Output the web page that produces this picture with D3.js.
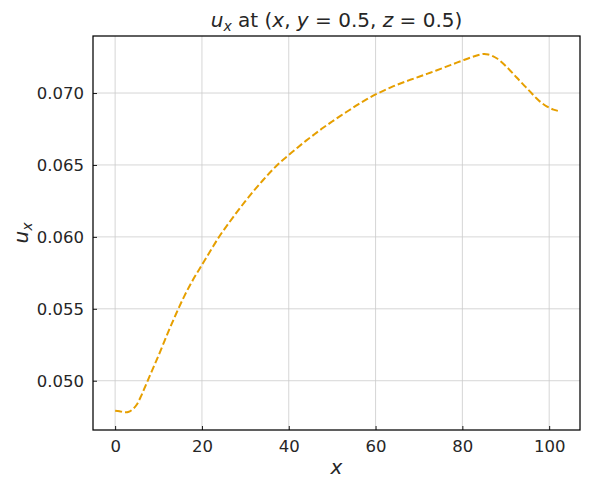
<!DOCTYPE html>
<html>
<head>
<meta charset="utf-8">
<script src="https://cdn.jsdelivr.net/npm/d3@7"></script>
<style>
  html, body { margin: 0; padding: 0; background: #fff; }
  svg { display: block; font-family: "DejaVu Sans", sans-serif; }
</style>
</head>
<body>
<svg id="chart" width="590" height="490"></svg>
<script>
// ---- data ----
const xValues = [0,1,2,3,4,5,6,7,8,9,10,12,14,16,18,20,22,24,26,28,30,32,34,36,38,40,42,44,46,48,50,52,54,56,58,60,62,64,66,68,70,72,74,76,78,80,82,84,85,86,87,88,89,90,91,92,93,94,95,96,97,98,99,100,101,102];
const uxValues = [0.04792,0.04788,0.04782,0.04783,0.04800,0.04835,0.04895,0.04965,0.05035,0.05105,0.05175,0.05322,0.05462,0.05592,0.05705,0.05805,0.05905,0.06003,0.06088,0.06170,0.06248,0.06322,0.06392,0.06458,0.06518,0.06569,0.06620,0.06669,0.06715,0.06760,0.06802,0.06843,0.06882,0.06921,0.06957,0.06990,0.07019,0.07046,0.07070,0.07092,0.07113,0.07135,0.07157,0.07180,0.07203,0.07226,0.07248,0.07267,0.07272,0.07268,0.07257,0.07240,0.07216,0.07188,0.07157,0.07125,0.07092,0.07060,0.07029,0.06997,0.06966,0.06938,0.06915,0.06898,0.06885,0.06876];
const xTicks = [0,20,40,60,80,100];
const yTicks = [0.050,0.055,0.060,0.065,0.070];

// ---- layout ----
const W = 590, H = 490;
const L = 93, R = 580, T = 36, B = 430;
const svg = d3.select("#chart");

const xMin = d3.min(xValues), xMax = d3.max(xValues);
const yMin = d3.min(uxValues), yMax = d3.max(uxValues);
const xPad = (xMax - xMin) * 0.05, yPad = (yMax - yMin) * 0.05;

const x = d3.scaleLinear().domain([xMin - xPad, xMax + xPad]).range([L, R]);
const y = d3.scaleLinear().domain([yMin - yPad, yMax + yPad]).range([B, T]);

// grid
const grid = svg.append("g");
grid.selectAll("line.vx").data(xTicks).enter().append("line")
  .attr("x1", d => x(d)).attr("x2", d => x(d)).attr("y1", T).attr("y2", B)
  .attr("stroke", "#cbcbcb").attr("stroke-width", 0.8);
grid.selectAll("line.hy").data(yTicks).enter().append("line")
  .attr("y1", d => y(d)).attr("y2", d => y(d)).attr("x1", L).attr("x2", R)
  .attr("stroke", "#cbcbcb").attr("stroke-width", 0.8);

// line
const data = xValues.map((v, i) => [v, uxValues[i]]);
const line = d3.line().x(d => x(d[0])).y(d => y(d[1])).curve(d3.curveCatmullRom.alpha(0.5));
svg.append("path").datum(data)
  .attr("d", line)
  .attr("fill", "none")
  .attr("stroke", "#E69F00")
  .attr("stroke-width", 2)
  .attr("stroke-dasharray", "7,3");

// axes (ticks inward)
const xAxis = d3.axisBottom(x).tickValues(xTicks).tickFormat(d3.format("d")).tickSizeInner(-4).tickSizeOuter(0).tickPadding(10);
const yAxis = d3.axisLeft(y).tickValues(yTicks).tickFormat(d3.format(".3f")).tickSizeInner(-4).tickSizeOuter(0).tickPadding(9);

const gx = svg.append("g").attr("transform", `translate(0,${B})`).call(xAxis);
const gy = svg.append("g").attr("transform", `translate(${L},0)`).call(yAxis);
[gx, gy].forEach(g => {
  g.select(".domain").remove();
  g.selectAll(".tick line").attr("stroke", "#000").attr("stroke-width", 0.9);
  g.selectAll(".tick text").attr("fill", "#262626")
    .style("font-family", "DejaVu Sans").style("font-size", "16.5px");
});

// frame
svg.append("rect").attr("x", L).attr("y", T).attr("width", R - L).attr("height", B - T)
  .attr("fill", "none").attr("stroke", "#000").attr("stroke-width", 1.25);

// title
const title = svg.append("text").attr("x", (L + R) / 2).attr("y", 27)
  .attr("text-anchor", "middle").attr("fill", "#262626").style("font-size", "20px");
title.append("tspan").style("font-style", "italic").text("u");
title.append("tspan").style("font-style", "italic").style("font-size", "14px").attr("dy", 4).text("x");
title.append("tspan").attr("dy", -4).text(" at (");
title.append("tspan").style("font-style", "italic").text("x");
title.append("tspan").text(", ");
title.append("tspan").style("font-style", "italic").text("y");
title.append("tspan").text(" = 0.5, ");
title.append("tspan").style("font-style", "italic").text("z");
title.append("tspan").text(" = 0.5)");

// x label
svg.append("text").attr("x", (L + R) / 2).attr("y", 474)
  .attr("text-anchor", "middle").attr("fill", "#262626")
  .style("font-size", "20px").style("font-style", "italic").text("x");

// y label
const yl = svg.append("text").attr("transform", `translate(28,${(T + B) / 2}) rotate(-90)`)
  .attr("text-anchor", "middle").attr("fill", "#262626").style("font-size", "20px");
yl.append("tspan").style("font-style", "italic").text("u");
yl.append("tspan").style("font-style", "italic").style("font-size", "14px").attr("dy", 4).text("x");
</script>
</body>
</html>
